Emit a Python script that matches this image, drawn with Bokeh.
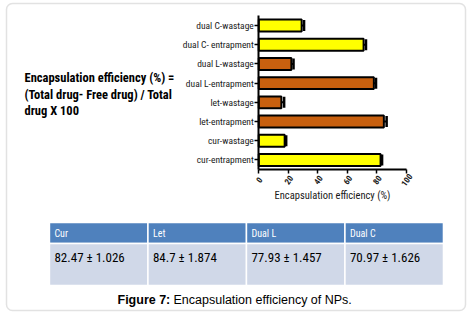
from bokeh.plotting import figure
from bokeh.models import (ColumnDataSource, Range1d, Label, Whisker, TeeHead,
                          FixedTicker, BoxAnnotation)
from bokeh.embed import file_html
from bokeh.resources import INLINE
from bokeh.core.properties import value

# ---------------- data ----------------
categories = ["cur-entrapment", "cur-wastage", "let-entrapment", "let-wastage",
              "dual L-entrapment", "dual L-wastage", "dual C- entrapment", "dual C-wastage"]
efficiency = [82.47, 17.53, 84.7, 15.3, 77.93, 22.07, 70.97, 29.03]
errors = [1.026, 1.026, 1.874, 1.874, 1.457, 1.457, 1.626, 1.626]
bar_colors = ["#FFFF00", "#FFFF00", "#C8600F", "#C8600F",
              "#C8600F", "#C8600F", "#FFFF00", "#FFFF00"]
x_ticks = [0, 20, 40, 60, 80, 100]
x_tick_labels = ["0", "20", "40", "60", "80", "100"]
x_title = "Encapsulation efficiency (%)"

formula_lines = ["Encapsulation efficiency (%) =",
                 "(Total drug- Free drug) / Total",
                 "drug X 100"]

table_headers = ["Cur", "Let", "Dual L", "Dual C"]
table_values = ["82.47 \u00b1 1.026", "84.7 \u00b1 1.874", "77.93  \u00b1 1.457", "70.97 \u00b1  1.626"]

caption_bold = "Figure 7:"
caption_rest = "Encapsulation efficiency of NPs."

COND = "Roboto Condensed"
SANS = "Liberation Sans"

W, H = 473, 316

# ---------------- one canvas-filling figure ----------------
p = figure(width=W, height=H, x_range=Range1d(-174.9, 145.4), y_range=Range1d(-8.147, 8.303),
           output_backend="svg", toolbar_location=None,
           min_border_left=0, min_border_right=0, min_border_top=0, min_border_bottom=0)
p.outline_line_color = None
p.grid.grid_line_color = None

# outer rounded frame
p.add_layout(BoxAnnotation(left=6, right=465, bottom=6, top=313,
                           left_units="screen", right_units="screen",
                           bottom_units="screen", top_units="screen",
                           fill_color=None, line_color="#a0a0a0", line_width=1.5,
                           border_radius=6))

# extra ranges for the table (columns 0..4, rows: data 0..2, header 2..3)
p.extra_x_ranges = {"tbl": Range1d(-0.497, 4.305)}
p.extra_y_ranges = {"tbl": Range1d(-1.476, 13.571)}

y_idx = list(range(len(categories)))
upper = [v + e for v, e in zip(efficiency, errors)]
lower = [v - e for v, e in zip(efficiency, errors)]
src = ColumnDataSource(dict(y=y_idx, val=efficiency, upper=upper, lower=lower, color=bar_colors))
p.hbar(y="y", right="val", left=0, height=0.62, fill_color="color",
       line_color="black", line_width=2, source=src)
p.add_layout(Whisker(base="y", upper="upper", lower="lower", dimension="width",
                     source=src, line_width=2, line_color="black",
                     upper_head=TeeHead(size=11, line_width=2.5, line_color="black"),
                     lower_head=None))

xa = p.xaxis[0]
ya = p.yaxis[0]
axis_y = -0.5
xa.fixed_location = axis_y
xa.bounds = (0, 100)
ya.fixed_location = 0
ya.bounds = (-0.5, len(categories) - 0.5)

for ax in (xa, ya):
    ax.axis_line_width = 2
    ax.axis_line_color = "black"
    ax.major_tick_line_width = 1.5
    ax.major_tick_line_color = "black"
    ax.major_tick_out = 4
    ax.major_tick_in = 0
    ax.minor_tick_line_color = None
    ax.major_label_text_font = COND
    ax.major_label_text_color = "#1a1a1a"

ya.ticker = FixedTicker(ticks=y_idx)
ya.major_label_overrides = {i: c for i, c in zip(y_idx, categories)}
ya.major_label_text_font_size = "9.5px"
ya.major_label_standoff = 1

xa.ticker = FixedTicker(ticks=x_ticks)
xa.major_label_text_color = None      # tick labels drawn below, centred on ticks
xa.major_label_standoff = 0
xa.axis_label = x_title
xa.axis_label_text_font = COND
xa.axis_label_text_font_size = "10.5px"
xa.axis_label_text_font_style = "normal"
xa.axis_label_text_color = "#1a1a1a"
xa.axis_label_standoff = 15

# rotated tick labels, centred under each tick
p.text(x=x_ticks, y=[axis_y] * len(x_ticks), text=x_tick_labels,
       y_offset=10, angle=0.95, text_align="center", text_baseline="middle",
       text_font=value(COND), text_font_size="8.5px", text_font_style="bold",
       text_color="#1a1a1a")

# formula text
for i, line in enumerate(formula_lines):
    p.add_layout(Label(x=24, y=239 - i * 16.5, x_units="screen", y_units="screen",
                       text=line, text_font=COND, text_font_style="bold",
                       text_font_size="12.5px", text_color="black",
                       text_baseline="middle", text_align="left"))

# ---------------- table ----------------
col_idx = list(range(len(table_headers)))
tsrc = ColumnDataSource(dict(x0=col_idx, x1=[c + 1 for c in col_idx],
                             head=table_headers, val=table_values))
p.quad(left="x0", right="x1", bottom=2, top=3, fill_color="#4F81BD", line_color="white",
       line_width=1.5, source=tsrc, x_range_name="tbl", y_range_name="tbl")
p.quad(left="x0", right="x1", bottom=0, top=2, fill_color="#D0D8E8", line_color="white",
       line_width=1.5, source=tsrc, x_range_name="tbl", y_range_name="tbl")
p.text(x="x0", y=2.5, text="head", x_offset=5, text_align="left", text_baseline="middle",
       text_font=value(COND), text_font_size="10px", text_color="white", source=tsrc,
       x_range_name="tbl", y_range_name="tbl")
p.text(x="x0", y=2, text="val", x_offset=5, y_offset=6, text_align="left",
       text_baseline="top", text_font=value(COND), text_font_size="13px",
       text_color="#000000", source=tsrc, x_range_name="tbl", y_range_name="tbl")

# caption
p.add_layout(Label(x=117, y=17, x_units="screen", y_units="screen", text=caption_bold,
                   text_font=SANS, text_font_style="bold", text_font_size="12.5px",
                   text_color="black", text_baseline="middle", text_align="left"))
p.add_layout(Label(x=173, y=17, x_units="screen", y_units="screen", text=caption_rest,
                   text_font=SANS, text_font_size="12.5px",
                   text_color="black", text_baseline="middle", text_align="left"))

open("out.html", "w").write(file_html(p, INLINE))
